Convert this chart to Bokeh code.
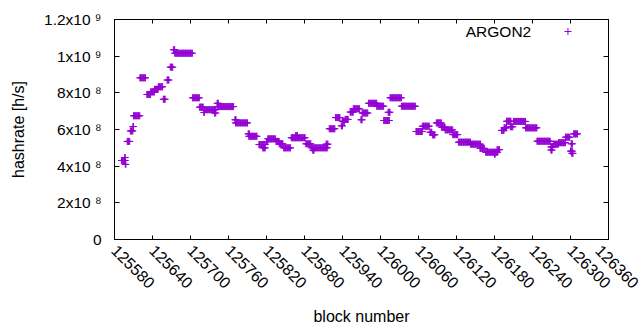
import numpy as np
from bokeh.plotting import figure
from bokeh.models import (FixedTicker, LinearAxis, Label, Range1d,
                          BasicTickFormatter, CustomJSTickFormatter)
from bokeh.embed import file_html
from bokeh.resources import INLINE

# Hashrate plateaus: block range (inclusive) and hashrate in 1e6 h/s
seg_start = [125591, 125596, 125597, 125600, 125605, 125609, 125610, 125620,
             125631, 125637, 125643, 125649, 125657, 125663, 125668, 125673, 125675,
             125703, 125714, 125721, 125721, 125738, 125742, 125742, 125771, 125770,
             125792, 125791, 125808, 125814, 125822, 125820, 125835, 125840, 125847,
             125859, 125866, 125882, 125891, 125914, 125893, 125919, 125929, 125938,
             125940, 125944, 125952, 125957, 125969, 125971, 125981, 125994, 126005,
             126012, 126015, 126033, 126056, 126066, 126078, 126082, 126088, 126096,
             126102, 126114, 126123, 126142, 126157, 126166, 126184, 126180, 126191,
             126195, 126199, 126205, 126210, 126229, 126247, 126269, 126269, 126273,
             126281, 126292, 126301, 126300, 126302, 126305]
seg_end = [125597, 125597, 125598, 125604, 125609, 125610, 125620, 125629,
           125637, 125643, 125649, 125656, 125660, 125666, 125672, 125675, 125703,
           125714, 125720, 125740, 125722, 125740, 125768, 125744, 125790, 125772,
           125805, 125793, 125818, 125818, 125834, 125822, 125840, 125846, 125858,
           125881, 125869, 125890, 125916, 125917, 125895, 125928, 125936, 125940,
           125943, 125949, 125957, 125967, 125971, 125980, 125994, 126005, 126014,
           126015, 126033, 126055, 126066, 126077, 126081, 126086, 126096, 126102,
           126114, 126122, 126142, 126158, 126164, 126185, 126188, 126181, 126195,
           126199, 126206, 126209, 126229, 126247, 126268, 126272, 126271, 126281,
           126292, 126299, 126303, 126303, 126304, 126311]
seg_hashrate_e6 = [431, 447, 410, 535, 592, 616, 675, 882,
                   791, 805, 819, 833, 765, 870, 940, 1035, 1016,
                   773, 722, 708, 693, 690, 725, 743, 636, 653,
                   563, 576, 518, 500, 549, 534, 535, 522, 500,
                   555, 567, 522, 500, 520, 487, 604, 665, 620,
                   645, 655, 695, 713, 653, 690, 743, 727, 649,
                   694, 773, 727, 589, 618, 585, 571, 636, 613,
                   598, 572, 531, 520, 497, 476, 490, 465, 595,
                   609, 645, 615, 644, 609, 536, 505, 488, 520,
                   528, 558, 522, 482, 470, 576]

x_ticks = list(range(125580, 126361, 60))
y_ticks = [0, 2e8, 4e8, 6e8, 8e8, 1e9, 1.2e9]
y_tick_labels = ["0", "2x10 \u2078", "4x10 \u2078", "6x10 \u2078", "8x10 \u2078",
                 "1x10 \u2079", "1.2x10 \u2079"]
series_name = "ARGON2"

blocks, rates = [], []
for s, e, v in zip(seg_start, seg_end, seg_hashrate_e6):
    for b in range(s, e + 1):
        blocks.append(b)
        rates.append(v * 1e6)

FONT = "Liberation Sans"
FS = "15.5px"
COLOR = "#9400D3"

p = figure(width=640, height=330, output_backend="svg", toolbar_location=None,
           x_range=Range1d(x_ticks[0], x_ticks[-1]), y_range=Range1d(y_ticks[0], y_ticks[-1]),
           min_border_left=114, min_border_right=32, min_border_top=19, min_border_bottom=91)
p.background_fill_color = "white"
p.border_fill_color = "white"
p.outline_line_color = "black"
p.outline_line_width = 1
p.xgrid.visible = False
p.ygrid.visible = False

p.scatter(blocks, rates, marker="cross", size=7, line_color=COLOR, line_width=1)

blank = CustomJSTickFormatter(code="return ''")

# bottom axis
xa = p.xaxis[0]
xa.ticker = FixedTicker(ticks=x_ticks)
xa.formatter = BasicTickFormatter(use_scientific=False)
xa.major_label_orientation = -np.pi / 4
xa.major_label_text_font = FONT
xa.major_label_text_font_size = "16px"
xa.major_label_text_color = "black"
xa.major_label_standoff = 8
xa.major_tick_in = 4
xa.major_tick_out = 0
xa.minor_tick_in = 0
xa.minor_tick_out = 0
xa.axis_line_color = "black"
xa.major_tick_line_color = "black"
xa.axis_label = "block number"
xa.axis_label_text_font = FONT
xa.axis_label_text_font_size = "16px"
xa.axis_label_text_font_style = "normal"
xa.axis_label_text_color = "black"
xa.axis_label_standoff = 11

ya = p.yaxis[0]
ya.ticker = FixedTicker(ticks=y_ticks)
ya.major_label_overrides = {t: s for t, s in zip(y_ticks, y_tick_labels)}
ya.major_label_text_font = FONT
ya.major_label_text_font_size = FS
ya.major_label_text_color = "black"
ya.major_label_standoff = 13
ya.major_tick_in = 5
ya.major_tick_out = 0
ya.minor_tick_in = 0
ya.minor_tick_out = 0
ya.axis_line_color = "black"
ya.major_tick_line_color = "black"
ya.axis_label = "hashrate [h/s]"
ya.axis_label_text_font = FONT
ya.axis_label_text_font_size = "16px"
ya.axis_label_text_font_style = "normal"
ya.axis_label_text_color = "black"
ya.axis_label_standoff = 14

# mirrored ticks on top and right
top = LinearAxis(ticker=FixedTicker(ticks=x_ticks), formatter=blank,
                 major_tick_in=4, major_tick_out=0, minor_tick_in=0, minor_tick_out=0,
                 axis_line_color="black", major_label_standoff=0)
right = LinearAxis(ticker=FixedTicker(ticks=y_ticks), formatter=blank,
                   major_tick_in=5, major_tick_out=0, minor_tick_in=0, minor_tick_out=0,
                   axis_line_color="black", major_label_standoff=0)
p.add_layout(top, "above")
p.add_layout(right, "right")

# key (text then sample, gnuplot style)
key_x_text = 126238
key_x_mark = 126296
key_y = 1.1345e9
p.add_layout(Label(x=key_x_text, y=key_y, text=series_name, text_align="right",
                   text_baseline="middle", text_font=FONT, text_font_size=FS,
                   text_color="black"))
p.scatter([key_x_mark], [key_y], marker="cross", size=7, line_color=COLOR, line_width=1)

open("out.html", "w").write(file_html(p, INLINE))
